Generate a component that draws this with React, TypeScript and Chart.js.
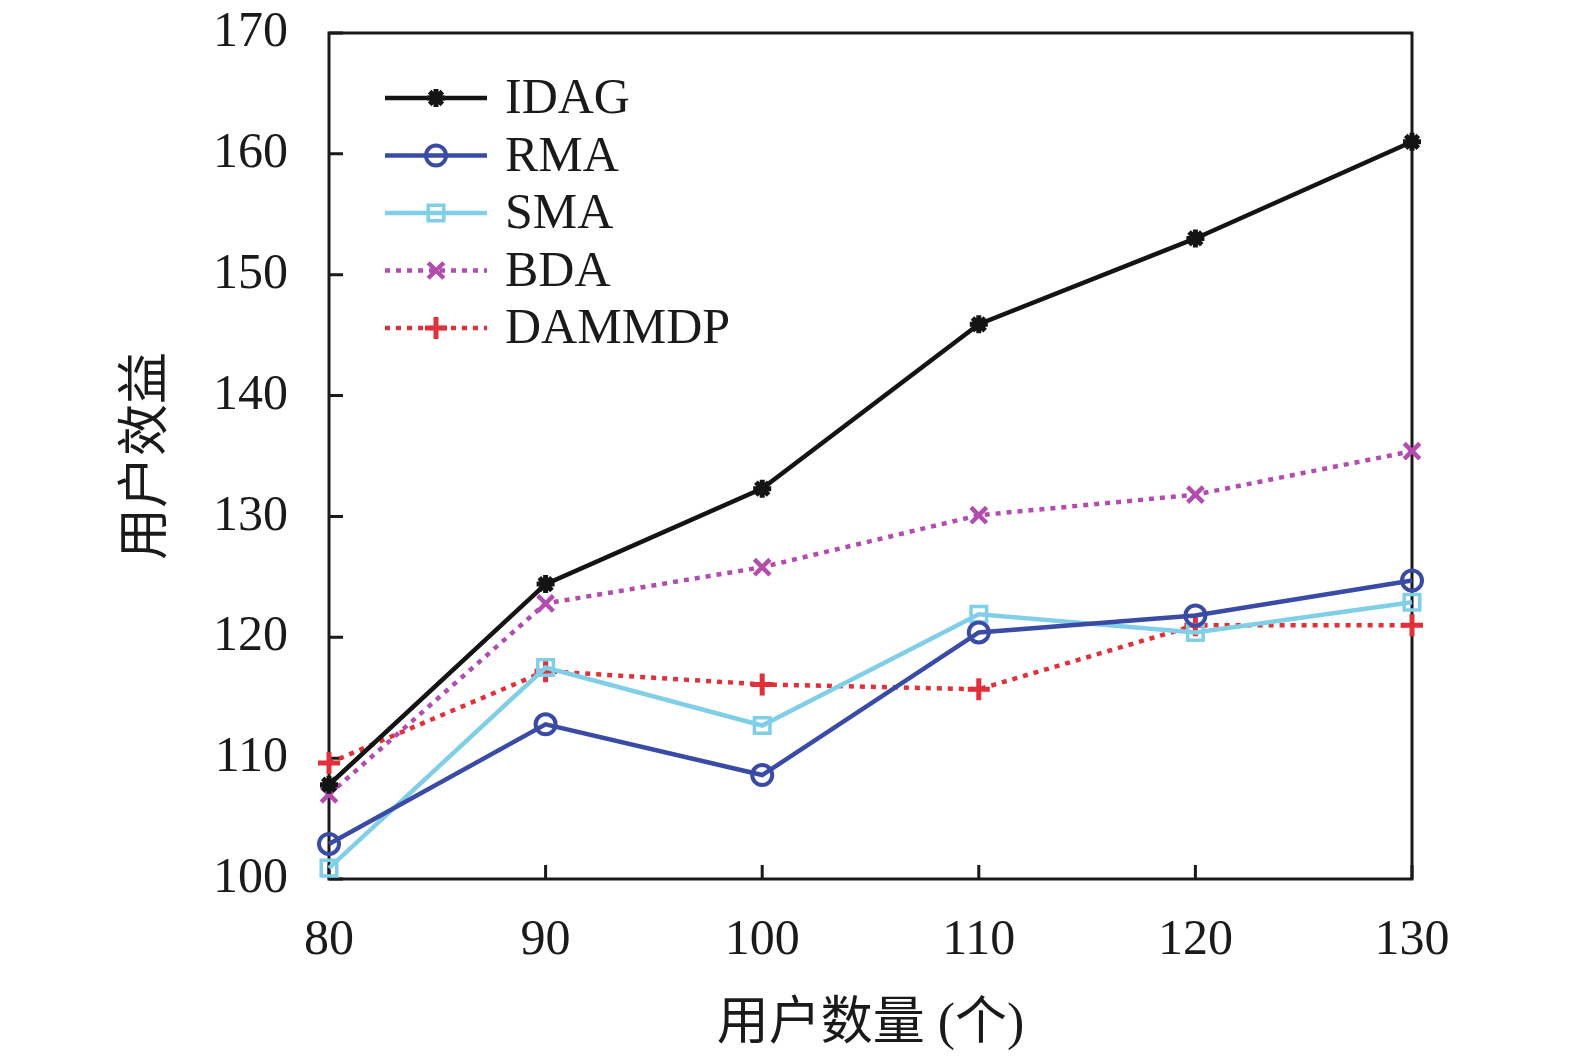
import { useEffect, useRef } from "react"
import { Chart, registerables } from "chart.js"
import { drawPoint } from "chart.js/helpers"

Chart.register(...registerables)

const SERIF = '"Liberation Serif", "Times New Roman", "Noto Sans CJK SC", serif'

// x axis: number of users
const userCounts = [80, 90, 100, 110, 120, 130]

// user utility per algorithm
const idag = [107.8, 124.4, 132.3, 145.9, 153.0, 161.0]
const rma = [102.9, 112.8, 108.6, 120.4, 121.8, 124.7]
const sma = [100.9, 117.5, 112.7, 121.9, 120.4, 122.9]
const bda = [107.0, 122.8, 125.8, 130.1, 131.8, 135.4]
const dammdp = [109.6, 117.2, 116.1, 115.7, 121.0, 121.0]

const yTicks = [100, 110, 120, 130, 140, 150, 160, 170]

// box frame + inward ticks on the left and bottom axes
const framePlugin = {
  id: "frame",
  beforeDatasetsDraw(chart: any) {
    const { ctx, chartArea: a, scales } = chart
    ctx.save()
    ctx.strokeStyle = "#1a1a1a"
    ctx.lineWidth = 3
    ctx.strokeRect(a.left, a.top, a.right - a.left, a.bottom - a.top)
    ctx.beginPath()
    const xs = scales.x
    xs.ticks.forEach((_t: any, i: number) => {
      const px = xs.getPixelForTick(i)
      ctx.moveTo(px, a.bottom)
      ctx.lineTo(px, a.bottom - 14)
    })
    const ys = scales.y
    yTicks.forEach((v) => {
      const py = ys.getPixelForValue(v)
      ctx.moveTo(a.left, py)
      ctx.lineTo(a.left + 14, py)
    })
    ctx.stroke()
    ctx.restore()
  },
}

// legend with line + marker in the middle, inside the plot
const legendPlugin = {
  id: "lineLegend",
  afterDraw(chart: any) {
    const { ctx, chartArea: a } = chart
    const x0 = a.left + 56
    const x1 = a.left + 158
    const y0 = a.top + 65
    const step = 57.5
    ctx.save()
    chart.data.datasets.forEach((ds: any, i: number) => {
      const y = y0 + i * step
      ctx.strokeStyle = ds.borderColor
      ctx.lineWidth = ds.borderWidth
      ctx.setLineDash(ds.borderDash || [])
      ctx.beginPath()
      ctx.moveTo(x0, y)
      ctx.lineTo(x1, y)
      ctx.stroke()
      ctx.setLineDash([])
      ctx.fillStyle = ds.pointBackgroundColor
      ctx.strokeStyle = ds.borderColor
      ctx.lineWidth = ds.pointBorderWidth
      drawPoint(ctx, { pointStyle: ds.pointStyle, radius: ds.pointRadius, borderWidth: ds.pointBorderWidth, rotation: 0 }, (x0 + x1) / 2, y)
      ctx.fillStyle = "#1a1a1a"
      ctx.font = `50px ${SERIF}`
      ctx.textBaseline = "middle"
      ctx.textAlign = "left"
      ctx.fillText(ds.label, x1 + 18, y + 2)
    })
    ctx.restore()
  },
}

function series(label: string, data: number[], color: string, style: string, radius: number, pw: number, dashed: boolean, fill: string) {
  return {
    label,
    data,
    borderColor: color,
    borderWidth: 4.5,
    borderDash: dashed ? [5, 6] : undefined,
    pointStyle: style,
    pointRadius: radius,
    pointBorderWidth: pw,
    pointBackgroundColor: fill,
    pointBorderColor: color,
    tension: 0,
    clip: false as const,
  }
}

export default function App() {
  const canvasRef = useRef<HTMLCanvasElement>(null)
  const chartRef = useRef<Chart | null>(null)

  useEffect(() => {
    document.body.style.margin = "0"
    if (!canvasRef.current) return
    if (chartRef.current) chartRef.current.destroy()

    chartRef.current = new Chart(canvasRef.current, {
      type: "line",
      data: {
        labels: userCounts.map(String),
        datasets: [
          series("IDAG", idag, "#141414", "star", 9, 5, false, "#141414"),
          series("RMA", rma, "#3a4ba6", "circle", 10, 4, false, "rgba(0,0,0,0)"),
          series("SMA", sma, "#80cfe6", "rect", 11, 3.5, false, "rgba(0,0,0,0)"),
          series("BDA", bda, "#b24caf", "crossRot", 11, 4.5, true, "#b24caf"),
          series("DAMMDP", dammdp, "#e0303a", "cross", 11, 5, true, "#e0303a"),
        ] as any,
      },
      options: {
        responsive: false,
        animation: false,
        layout: { padding: { top: 33, right: 163, bottom: 0, left: 0 } },
        plugins: { legend: { display: false }, tooltip: { enabled: false } },
        scales: {
          x: {
            type: "category",
            offset: false,
            grid: { display: false, drawTicks: false },
            border: { display: false },
            ticks: { color: "#1a1a1a", font: { family: SERIF, size: 50 }, padding: 32, maxRotation: 0 },
            title: {
              display: true,
              text: "用户数量 (个)",
              color: "#1a1a1a",
              font: { family: SERIF, size: 52 },
              padding: { top: 0, bottom: 6 },
            },
            afterFit(scale: any) {
              scale.height = 184
              scale.paddingRight = 0
            },
          },
          y: {
            min: 100,
            max: 170,
            grid: { display: false, drawTicks: false },
            border: { display: false },
            ticks: { stepSize: 10, color: "#1a1a1a", font: { family: SERIF, size: 50 }, padding: 41 },
            title: {
              display: true,
              text: "用户效益",
              color: "#1a1a1a",
              font: { family: SERIF, size: 52 },
              padding: { top: 117, bottom: 0 },
            },
            afterFit(scale: any) {
              scale.width = 329
              scale.paddingTop = 0
              scale.paddingBottom = 0
            },
          },
        },
      },
      plugins: [framePlugin, legendPlugin],
    })

    return () => {
      if (chartRef.current) {
        chartRef.current.destroy()
        chartRef.current = null
      }
    }
  }, [])

  return (
    <div style={{ width: 1575, height: 1063, overflow: "hidden", background: "#fff" }}>
      <canvas ref={canvasRef} width={1575} height={1063} style={{ display: "block" }} />
    </div>
  )
}
